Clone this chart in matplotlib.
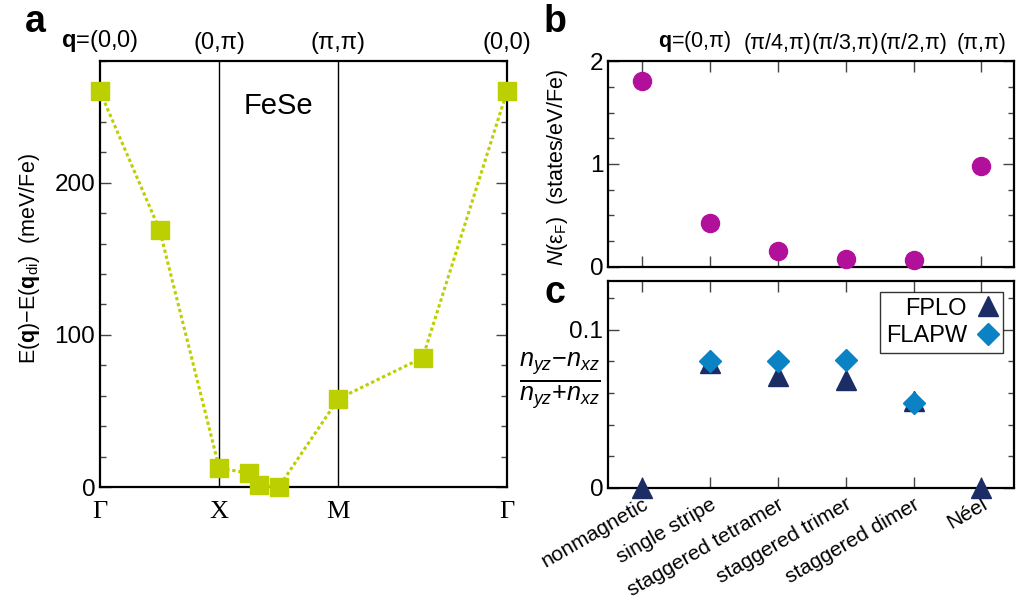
import numpy as np
import matplotlib
matplotlib.use("Agg")
import matplotlib.pyplot as plt
from matplotlib.ticker import MultipleLocator

plt.rcParams['font.family'] = ['Liberation Sans', 'DejaVu Sans']
plt.rcParams['mathtext.fontset'] = 'custom'
plt.rcParams['mathtext.rm'] = 'Liberation Sans'
plt.rcParams['mathtext.it'] = 'Liberation Sans:italic'
plt.rcParams['mathtext.bf'] = 'Liberation Sans:bold'

# ---------------- data ----------------
# panel a: path through q-space (Gamma - X - M - Gamma)
q_path = [0.0, 0.5, 1.0, 1.25, 4/3, 1.5, 2.0, 2.707, 3.414]
energy = [260, 169, 12.5, 9, 1, 0, 58, 85, 260]
hs_pos = [0.0, 1.0, 2.0, 3.414]
hs_labels = ['Γ', 'X', 'M', 'Γ']
hs_top = [r'$\mathbf{q}$=(0,0)', '(0,π)', '(π,π)', '(0,0)']

# panels b,c
states = ['nonmagnetic', 'single stripe', 'staggered tetramer',
          'staggered trimer', 'staggered dimer', 'Néel']
q_top = [r'$\mathbf{q}$=(0,π)', '(π/4,π)', '(π/3,π)', '(π/2,π)', '(π,π)']
dos = [1.81, 0.43, 0.155, 0.075, 0.065, 0.98]
pol_fplo = [0.0, 0.079, 0.071, 0.0685, 0.055, 0.0]
pol_flapw = [np.nan, 0.080, 0.080, 0.081, 0.0535, np.nan]

GREEN = '#bccf00'
MAGENTA = '#b0109a'
NAVY = '#1c2c64'
BLUE = '#0a82c4'

fig = plt.figure(figsize=(10.17, 6.06), dpi=100)
W, H = 1017, 606
def rect(l, t, r, b):
    return [l / W, 1 - b / H, (r - l) / W, (b - t) / H]

axa = fig.add_axes(rect(100, 61, 507, 487))
axb = fig.add_axes(rect(608, 61, 1014, 267))
axc = fig.add_axes(rect(608, 281, 1014, 488))

def style(ax):
    for s in ax.spines.values():
        s.set_linewidth(1.6)
    ax.tick_params(which='both', direction='in', top=True, right=True,
                   labelsize=17.5, color='#444444')
    ax.tick_params(which='major', length=8, width=1)
    ax.tick_params(which='minor', length=4, width=1)

# ---------------- panel a ----------------
style(axa)
for xv in hs_pos[1:3]:
    axa.axvline(xv, color='black', lw=1)
axa.plot(q_path, energy, linestyle=(0, (1.1, 0.9)), lw=2.2, color=GREEN,
         marker='s', ms=12.5, mfc=GREEN, mec=GREEN, clip_on=False, zorder=3)
axa.set_xlim(hs_pos[0], hs_pos[-1])
axa.set_ylim(0, 280)
axa.yaxis.set_major_locator(MultipleLocator(100))
axa.yaxis.set_minor_locator(MultipleLocator(20))
axa.set_xticks(hs_pos)
axa.set_xticklabels(hs_labels)
axa.tick_params(axis='x', which='both', length=0, top=False, pad=10)
for lbl in axa.get_xticklabels():
    lbl.set_fontfamily('Liberation Serif')
    lbl.set_fontsize(19)
for xv, t in zip(hs_pos, hs_top):
    axa.annotate(t, xy=(xv, 1), xycoords=('data', 'axes fraction'),
                 xytext=(0, 7), textcoords='offset pixels',
                 ha='center', va='bottom', fontsize=17)
axa.text(1.5, 0.895, 'FeSe', transform=axa.get_xaxis_transform(),
         ha='center', va='center', fontsize=21)
axa.set_ylabel(r'E($\mathbf{q}$)−E($\mathbf{q}_{\mathrm{di}}$)  (meV/Fe)',
               fontsize=15.5)
axa.yaxis.set_label_coords(-0.142, 0.535)

# ---------------- panel b ----------------
style(axb)
xcat = np.arange(len(states))
axb.plot(xcat, dos, 'o', ms=13, color=MAGENTA, mec=MAGENTA, clip_on=False, zorder=3)
axb.set_xlim(-0.5, 5.48)
axb.set_ylim(0, 2)
axb.yaxis.set_major_locator(MultipleLocator(1))
axb.yaxis.set_minor_locator(MultipleLocator(0.25))
axb.set_xticks(xcat)
axb.tick_params(axis='x', labelbottom=False)
for i, t in enumerate(q_top):
    dx = 22 if i == 0 else 0
    axb.annotate(t, xy=(xcat[i + 1], 1), xycoords=('data', 'axes fraction'),
                 xytext=(dx, 7), textcoords='offset pixels',
                 ha='right' if i == 0 else 'center', va='bottom', fontsize=15.5)
axb.set_ylabel(r'$N$(ε$_{\mathrm{F}}$)  (states/eV/Fe)', fontsize=15.5)
axb.yaxis.set_label_coords(-0.094, 0.485)

# ---------------- panel c ----------------
style(axc)
axc.plot(xcat, pol_fplo, '^', ms=14, color=NAVY, mec=NAVY, clip_on=False,
         zorder=3, label='FPLO')
axc.plot(xcat, pol_flapw, 'D', ms=11, color=BLUE, mec=BLUE, clip_on=False,
         zorder=4, label='FLAPW')
axc.set_xlim(-0.5, 5.48)
axc.set_ylim(0, 0.1307)
axc.yaxis.set_major_locator(MultipleLocator(0.1))
axc.yaxis.set_minor_locator(MultipleLocator(0.02))
axc.yaxis.set_major_formatter(plt.FuncFormatter(lambda v, p: '0' if v == 0 else f'{v:g}'))
axc.set_xticks(xcat)
axc.set_xticklabels(states, rotation=30, ha='right', rotation_mode='anchor',
                    fontsize=15)
axc.tick_params(axis='x', pad=5)
leg = axc.legend(loc='upper right', markerfirst=False, fontsize=17,
                 frameon=True, fancybox=False, edgecolor='black',
                 handlelength=0.8, handletextpad=0.5, borderpad=0.25,
                 labelspacing=0.25, borderaxespad=0.45)
leg.get_frame().set_linewidth(1.0)
for t in leg.get_texts():
    t.set_ha('right')
axc.text(-0.118, 0.52, r'$\frac{n_{yz}{-}n_{xz}}{n_{yz}{+}n_{xz}}$',
         transform=axc.transAxes, ha='center', va='center', fontsize=26)

# panel letters
fig.text(25 / W, 1 - 22 / H, 'a', fontsize=27, fontweight='bold', va='center')
fig.text(544 / W, 1 - 22 / H, 'b', fontsize=27, fontweight='bold', va='center')
fig.text(544 / W, 1 - 293 / H, 'c', fontsize=27, fontweight='bold', va='center')

fig.savefig('out.png', dpi=100)
